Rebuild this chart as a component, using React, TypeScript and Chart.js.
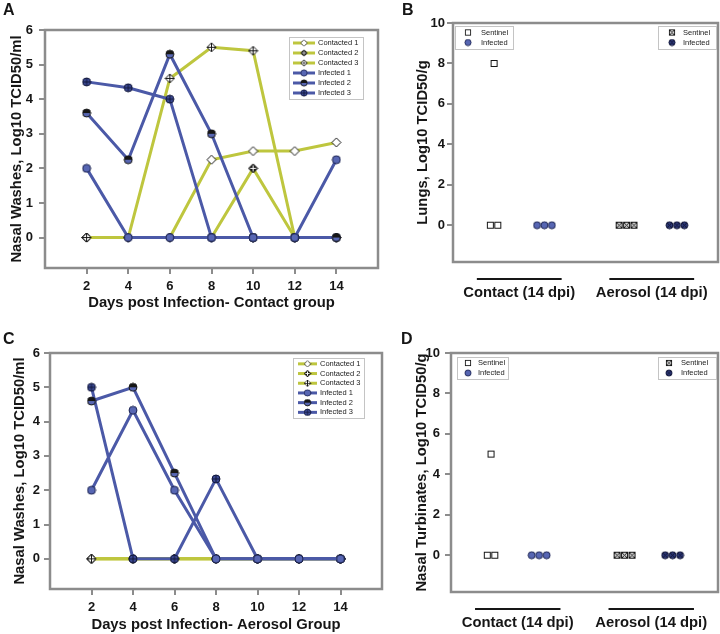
import React, { useEffect, useRef } from 'react';
import { Chart, registerables } from 'chart.js';

Chart.register(...registerables);

// ---------------- DATA ----------------
const days = [2, 4, 6, 8, 10, 12, 14];
const dayTicks = [2, 4, 6, 8, 10, 12, 14];
const washTicks = [0, 1, 2, 3, 4, 5, 6];
const tissueTicks = [0, 2, 4, 6, 8, 10];
const seriesLabels = ['Contacted 1', 'Contacted 2', 'Contacted 3', 'Infected 1', 'Infected 2', 'Infected 3'];

// Panel A: nasal washes, contact group
const contactContacted1 = [0, 0, 0, 2.25, 2.5, 2.5, 2.75];
const contactContacted2 = [0, 0, 0, 0, 2.0, 0, 0];
const contactContacted3 = [0, 0, 4.6, 5.5, 5.4, 0, 0];
const contactInfected1 = [2.0, 0, 0, 0, 0, 0, 2.25];
const contactInfected2 = [3.6, 2.25, 5.3, 3.0, 0, 0, 0];
const contactInfected3 = [4.5, 4.33, 4.0, 0, 0, 0, 0];

// Panel C: nasal washes, aerosol group
const aerosolContacted1 = [0, 0, 0, 0, 0, 0, 0];
const aerosolContacted2 = [0, 0, 0, 0, 0, 0, 0];
const aerosolContacted3 = [0, 0, 0, 0, 0, 0, 0];
const aerosolInfected1 = [2.0, 4.33, 2.0, 0, 0, 0, 0];
const aerosolInfected2 = [4.6, 5.0, 2.5, 0, 0, 0, 0];
const aerosolInfected3 = [5.0, 0, 0, 2.33, 0, 0, 0];

// Panels B and D: tissues at 14 dpi
const tissueGroups = ['Contact (14 dpi)', 'Aerosol (14 dpi)'];
const lungsContactSentinel = [0, 0, 8];
const lungsContactInfected = [0, 0, 0];
const lungsAerosolSentinel = [0, 0, 0];
const lungsAerosolInfected = [0, 0, 0];
const ntContactSentinel = [0, 0, 5];
const ntContactInfected = [0, 0, 0];
const ntAerosolSentinel = [0, 0, 0];
const ntAerosolInfected = [0, 0, 0];

// ---------------- STYLE ----------------
const GRAY = '#8c8c8c';
const YELLOW = '#bec63e';
const BLUE = '#4b59a7';
const INK = '#161616';
const TITLE_FONT = '"Liberation Sans", Arial, sans-serif';
const BASE_FONT = '"Liberation Sans", Arial, sans-serif';
const TITLE_SIZE = 14.8;

function makeMarker(kind: string, size: number): HTMLCanvasElement {
  const c = document.createElement('canvas');
  c.width = size;
  c.height = size;
  const g = c.getContext('2d') as CanvasRenderingContext2D;
  const m = size / 2;
  const r = size / 2 - 1;
  g.lineWidth = 1;
  const diamond = () => {
    g.beginPath();
    g.moveTo(m, m - r);
    g.lineTo(m + r, m);
    g.lineTo(m, m + r);
    g.lineTo(m - r, m);
    g.closePath();
  };
  const circle = () => {
    g.beginPath();
    g.arc(m, m, r, 0, Math.PI * 2);
  };
  const plus = (len: number, color: string) => {
    g.beginPath();
    g.moveTo(m - len, m);
    g.lineTo(m + len, m);
    g.moveTo(m, m - len);
    g.lineTo(m, m + len);
    g.strokeStyle = color;
    g.stroke();
  };
  const cross = (len: number, color: string) => {
    g.beginPath();
    g.moveTo(m - len, m - len);
    g.lineTo(m + len, m + len);
    g.moveTo(m + len, m - len);
    g.lineTo(m - len, m + len);
    g.strokeStyle = color;
    g.stroke();
  };
  switch (kind) {
    case 'diamondOpen':
      diamond(); g.fillStyle = '#fff'; g.fill(); g.strokeStyle = INK; g.stroke();
      break;
    case 'diamondBlack':
      diamond(); g.fillStyle = INK; g.fill(); g.strokeStyle = INK; g.stroke();
      plus(r - 1.5, '#fff');
      break;
    case 'diamondCross':
      diamond(); g.fillStyle = '#fff'; g.fill(); g.strokeStyle = INK; g.stroke();
      plus(r, INK);
      break;
    case 'circleBlue':
      circle(); g.fillStyle = '#5766b3'; g.fill(); g.strokeStyle = '#1c2452'; g.stroke();
      break;
    case 'circleHalf':
      circle(); g.fillStyle = '#5766b3'; g.fill();
      g.beginPath(); g.arc(m, m, r, Math.PI, Math.PI * 2); g.closePath(); g.fillStyle = INK; g.fill();
      circle(); g.strokeStyle = INK; g.stroke();
      break;
    case 'circleCross':
      circle(); g.fillStyle = '#3c4a94'; g.fill();
      plus(r, '#10163a');
      circle(); g.strokeStyle = '#10163a'; g.stroke();
      break;
    case 'square':
      g.fillStyle = '#fff'; g.fillRect(1, 1, size - 2, size - 2);
      g.strokeStyle = INK; g.strokeRect(1.5, 1.5, size - 3, size - 3);
      break;
    case 'squareX':
      g.fillStyle = '#d8d8d8'; g.fillRect(1, 1, size - 2, size - 2);
      cross(r - 1, INK);
      g.strokeStyle = INK; g.strokeRect(1.5, 1.5, size - 3, size - 3);
      break;
    case 'circleX':
      circle(); g.fillStyle = '#2d3878'; g.fill();
      cross(r * 0.7, '#0c1030');
      circle(); g.strokeStyle = '#0c1030'; g.stroke();
      break;
  }
  return c;
}

// ---------------- PLUGINS ----------------
const framePlugin = {
  id: 'frame',
  beforeDatasetsDraw(chart: any) {
    const { ctx, chartArea: a } = chart;
    ctx.save();
    ctx.strokeStyle = GRAY;
    ctx.lineWidth = 2.5;
    ctx.strokeRect(a.left, a.top, a.right - a.left, a.bottom - a.top);
    ctx.restore();
  },
};

const boxLegendPlugin = {
  id: 'boxLegend',
  afterDatasetsDraw(chart: any, _args: any, opts: any) {
    const boxes = (opts && opts.boxes) || [];
    const { ctx, chartArea: a } = chart;
    for (const b of boxes) {
      const x = b.side === 'right' ? a.right - b.dx - b.w : a.left + b.dx;
      const y = a.top + b.dy;
      ctx.save();
      ctx.fillStyle = '#fff';
      ctx.fillRect(x, y, b.w, b.h);
      ctx.strokeStyle = '#c4c4c4';
      ctx.lineWidth = 1;
      ctx.strokeRect(Math.round(x) + 0.5, Math.round(y) + 0.5, b.w, b.h);
      ctx.font = `${b.fontSize}px ${BASE_FONT}`;
      ctx.textBaseline = 'middle';
      b.datasets.forEach((di: number, k: number) => {
        const ds = chart.data.datasets[di];
        const cy = y + b.padT + b.rowH * (k + 0.5);
        if (b.line) {
          ctx.strokeStyle = ds.borderColor;
          ctx.lineWidth = 3;
          ctx.beginPath();
          ctx.moveTo(x + b.lineX1, cy);
          ctx.lineTo(x + b.lineX2, cy);
          ctx.stroke();
        }
        const img = ds.pointStyle as HTMLCanvasElement;
        const s = b.markerSize;
        ctx.drawImage(img, x + b.markerX - s / 2, cy - s / 2, s, s);
        ctx.fillStyle = '#222';
        ctx.fillText(ds.label, x + b.textX, cy);
      });
      ctx.restore();
    }
  },
};

const groupBarPlugin = {
  id: 'groupBars',
  afterDraw(chart: any, _args: any, opts: any) {
    if (!opts || !opts.groups) return;
    const xs = chart.scales.x;
    const a = chart.chartArea;
    const ctx = chart.ctx;
    ctx.save();
    ctx.strokeStyle = INK;
    ctx.lineWidth = 2;
    for (const g of opts.groups) {
      const x1 = xs.getPixelForValue(g - opts.half);
      const x2 = xs.getPixelForValue(g + opts.half);
      ctx.beginPath();
      ctx.moveTo(x1, a.bottom + opts.dy);
      ctx.lineTo(x2, a.bottom + opts.dy);
      ctx.stroke();
    }
    ctx.restore();
  },
};

// keep the plot frame where the layout padding puts it
function fixHeight(h: number) {
  return (s: any) => {
    s.height = h;
    s.paddingLeft = 0;
    s.paddingRight = 0;
  };
}
function fixWidth(w: number) {
  return (s: any) => {
    s.width = w;
    s.paddingTop = 0;
    s.paddingBottom = 0;
  };
}

// ---------------- CONFIG BUILDERS ----------------
function lineConfig(p: any) {
  const kinds = ['diamondOpen', 'diamondBlack', 'diamondCross', 'circleBlue', 'circleHalf', 'circleCross'];
  const colors = [YELLOW, YELLOW, YELLOW, BLUE, BLUE, BLUE];
  const orders = [3, 2, 1, 0, 0, 0];
  const datasets = p.series.map((vals: number[], i: number) => ({
    label: seriesLabels[i],
    data: days.map((d, j) => ({ x: d, y: vals[j] })),
    borderColor: colors[i],
    backgroundColor: colors[i],
    borderWidth: 3,
    pointStyle: makeMarker(kinds[i], i < 3 ? 11 : 10),
    pointRadius: 5,
    tension: 0,
    fill: false,
    order: orders[i],
  }));
  return {
    type: 'line',
    data: { datasets },
    options: {
      animation: false,
      responsive: false,
      maintainAspectRatio: false,
      events: [],
      layout: { padding: p.padding, autoPadding: false },
      plugins: {
        legend: { display: false },
        tooltip: { enabled: false },
        boxLegend: { boxes: [p.legend] },
      },
      scales: {
        x: {
          type: 'linear',
          min: 0,
          max: 16,
          afterBuildTicks: (s: any) => { s.ticks = dayTicks.map((v) => ({ value: v })); },
          afterFit: fixHeight(p.xH),
          border: { display: false },
          grid: { drawOnChartArea: false, drawTicks: true, tickLength: 6, color: GRAY, lineWidth: 2 },
          ticks: { color: INK, padding: p.xTickPad, maxRotation: 0, autoSkip: false, font: { family: BASE_FONT, size: 13, weight: 'bold' } },
          title: { display: true, text: p.xTitle, color: INK, padding: { top: 0, bottom: p.xTitlePad }, font: { family: TITLE_FONT, size: TITLE_SIZE, weight: 'bold', lineHeight: 1 } },
        },
        y: {
          type: 'linear',
          min: -0.88,
          max: 6,
          afterBuildTicks: (s: any) => { s.ticks = washTicks.map((v) => ({ value: v })); },
          afterFit: fixWidth(p.yW),
          border: { display: false },
          grid: { drawOnChartArea: false, drawTicks: true, tickLength: 6, color: GRAY, lineWidth: 2 },
          ticks: { color: INK, padding: p.yTickPad, font: { family: BASE_FONT, size: 13, weight: 'bold' } },
          title: { display: true, text: 'Nasal Washes, Log10 TCID50/ml', color: INK, padding: { top: p.yTitlePad, bottom: 0 }, font: { family: TITLE_FONT, size: TITLE_SIZE, weight: 'bold', lineHeight: 1 } },
        },
      },
    },
    plugins: [framePlugin, boxLegendPlugin],
  };
}

function swarm(values: number[], center: number, step: number) {
  const counts = new Map<number, number>();
  values.forEach((v) => counts.set(v, (counts.get(v) || 0) + 1));
  const seen = new Map<number, number>();
  return values.map((v) => {
    const n = counts.get(v) as number;
    const k = seen.get(v) || 0;
    seen.set(v, k + 1);
    return { x: center + (k - (n - 1) / 2) * step, y: v };
  });
}

function tissueConfig(p: any) {
  const step = 0.056;
  const mk = (label: string, vals: number[], center: number, kind: string) => ({
    label,
    data: swarm(vals, center, step),
    pointStyle: makeMarker(kind, 9),
    pointRadius: 4.5,
    showLine: false,
  });
  const datasets = [
    mk('Sentinel', p.cs, 1 + p.sOff, 'square'),
    mk('Infected', p.ci, 1 + p.iOff, 'circleBlue'),
    mk('Sentinel', p.as, 2 + p.sOff, 'squareX'),
    mk('Infected', p.ai, 2 + p.iOff, 'circleX'),
  ];
  return {
    type: 'scatter',
    data: { datasets },
    options: {
      animation: false,
      responsive: false,
      maintainAspectRatio: false,
      events: [],
      layout: { padding: p.padding, autoPadding: false },
      plugins: {
        legend: { display: false },
        tooltip: { enabled: false },
        boxLegend: { boxes: p.legends },
        groupBars: { groups: [1, 2], half: 0.32, dy: 17 },
      },
      scales: {
        x: {
          type: 'linear',
          min: 0.5,
          max: 2.5,
          afterBuildTicks: (s: any) => { s.ticks = tissueGroups.map((_, i) => ({ value: i + 1 })); },
          afterFit: fixHeight(p.xH),
          border: { display: false },
          grid: { display: false, drawTicks: true, tickLength: 22 },
          ticks: {
            color: INK,
            padding: 1.5,
            maxRotation: 0,
            autoSkip: false,
            callback: (v: any) => tissueGroups[Math.round(v) - 1],
            font: { family: TITLE_FONT, size: TITLE_SIZE, weight: 'bold', lineHeight: 1 },
          },
        },
        y: {
          type: 'linear',
          min: -1.82,
          max: 10,
          afterBuildTicks: (s: any) => { s.ticks = tissueTicks.map((v) => ({ value: v })); },
          afterFit: fixWidth(p.yW),
          border: { display: false },
          grid: { drawOnChartArea: false, drawTicks: true, tickLength: 6, color: GRAY, lineWidth: 2 },
          ticks: { color: INK, padding: p.yTickPad, font: { family: BASE_FONT, size: 13, weight: 'bold' } },
          title: { display: true, text: p.yTitle, color: INK, padding: { top: p.yTitlePad, bottom: 0 }, font: { family: TITLE_FONT, size: TITLE_SIZE, weight: 'bold', lineHeight: 1 } },
        },
      },
    },
    plugins: [framePlugin, boxLegendPlugin, groupBarPlugin],
  };
}

// ---------------- COMPONENTS ----------------
function ChartCanvas(props: { make: () => any; left: number; top: number; width: number; height: number }) {
  const ref = useRef<HTMLCanvasElement | null>(null);
  useEffect(() => {
    const chart = new Chart(ref.current as HTMLCanvasElement, props.make());
    return () => chart.destroy();
  }, []);
  return (
    <canvas
      ref={ref}
      width={props.width}
      height={props.height}
      style={{ position: 'absolute', left: props.left, top: props.top, width: props.width, height: props.height }}
    />
  );
}

const lineLegendA = { side: 'right', dx: 15, dy: 7, w: 74, h: 62, rowH: 10, padT: 1, line: true, lineX1: 4, lineX2: 26, markerX: 15, textX: 29, markerSize: 8, fontSize: 7.5, datasets: [0, 1, 2, 3, 4, 5] };
const lineLegendC = { side: 'right', dx: 18, dy: 5, w: 71, h: 60, rowH: 9.7, padT: 1, line: true, lineX1: 5, lineX2: 24, markerX: 14.5, textX: 27, markerSize: 8, fontSize: 7.5, datasets: [0, 1, 2, 3, 4, 5] };

const Letter = ({ ch, left, top }: { ch: string; left: number; top: number }) => (
  <div style={{ position: 'absolute', left, top, font: `bold 16px ${BASE_FONT}`, lineHeight: '16px', color: INK }}>{ch}</div>
);

export default function App() {
  return (
    <div style={{ position: 'fixed', left: 0, top: 0, width: 720, height: 634, overflow: 'hidden', background: '#fff' }}>
      <ChartCanvas
        left={0}
        top={0}
        width={390}
        height={315}
        make={() =>
          lineConfig({
            series: [contactContacted1, contactContacted2, contactContacted3, contactInfected1, contactInfected2, contactInfected3],
            padding: { left: 0, top: 30, right: 12, bottom: 0 },
            xH: 47,
            yW: 45,
            xTickPad: 5,
            yTickPad: 6,
            xTitlePad: 4.6,
            yTitlePad: 9.6,
            xTitle: 'Days post Infection- Contact group',
            legend: lineLegendA,
          })
        }
      />
      <ChartCanvas
        left={0}
        top={330}
        width={390}
        height={304}
        make={() =>
          lineConfig({
            series: [aerosolContacted1, aerosolContacted2, aerosolContacted3, aerosolInfected1, aerosolInfected2, aerosolInfected3],
            padding: { left: 0, top: 23, right: 8, bottom: 0 },
            xH: 45,
            yW: 50,
            xTickPad: 5,
            yTickPad: 4,
            xTitlePad: 1.6,
            yTitlePad: 12.6,
            xTitle: 'Days post Infection- Aerosol Group',
            legend: lineLegendC,
          })
        }
      />
      <ChartCanvas
        left={360}
        top={0}
        width={360}
        height={310}
        make={() =>
          tissueConfig({
            cs: lungsContactSentinel,
            ci: lungsContactInfected,
            as: lungsAerosolSentinel,
            ai: lungsAerosolInfected,
            sOff: -0.19,
            iOff: 0.19,
            padding: { left: 42, top: 23, right: 2, bottom: 0 },
            xH: 48,
            yW: 51,
            yTickPad: 2,
            yTitlePad: 13.6,
            yTitle: 'Lungs, Log10 TCID50/g',
            legends: [
              { side: 'left', dx: 2, dy: 3, w: 58, h: 23, rowH: 10, padT: 1.5, line: false, markerX: 13, textX: 26, markerSize: 8, fontSize: 7.5, datasets: [0, 1] },
              { side: 'right', dx: 2, dy: 3, w: 58, h: 23, rowH: 10, padT: 1.5, line: false, markerX: 14, textX: 25, markerSize: 8, fontSize: 7.5, datasets: [2, 3] },
            ],
          })
        }
      />
      <ChartCanvas
        left={360}
        top={330}
        width={360}
        height={304}
        make={() =>
          tissueConfig({
            cs: ntContactSentinel,
            ci: ntContactInfected,
            as: ntAerosolSentinel,
            ai: ntAerosolInfected,
            sOff: -0.2,
            iOff: 0.16,
            padding: { left: 42, top: 23, right: 2, bottom: 0 },
            xH: 42,
            yW: 49,
            yTickPad: 5,
            yTitlePad: 12.6,
            yTitle: 'Nasal Turbinates, Log10 TCID50/g',
            legends: [
              { side: 'left', dx: 6, dy: 4, w: 51, h: 22, rowH: 10, padT: 1, line: false, markerX: 11, textX: 21, markerSize: 8, fontSize: 7.5, datasets: [0, 1] },
              { side: 'right', dx: 2, dy: 4, w: 58, h: 22, rowH: 10, padT: 1, line: false, markerX: 11, textX: 23, markerSize: 8, fontSize: 7.5, datasets: [2, 3] },
            ],
          })
        }
      />
      <Letter ch="A" left={3} top={2} />
      <Letter ch="B" left={402} top={2} />
      <Letter ch="C" left={3} top={331} />
      <Letter ch="D" left={401} top={331} />
    </div>
  );
}
